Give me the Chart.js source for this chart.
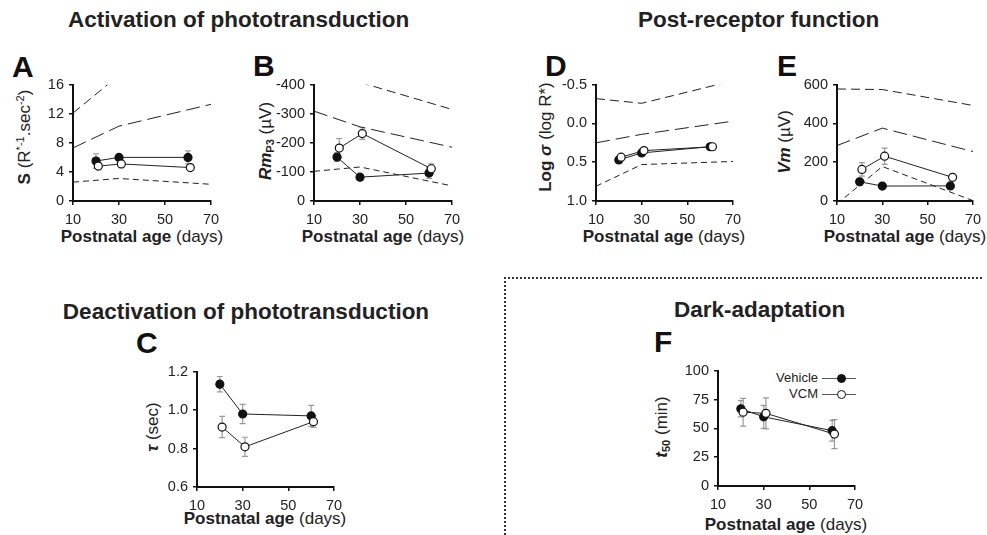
<!DOCTYPE html>
<html><head><meta charset="utf-8">
<script src="https://cdn.jsdelivr.net/npm/chart.js@4"></script>
<style>
body{margin:0;background:#fff;width:987px;height:535px;overflow:hidden;position:relative;font-family:'Liberation Sans',Arial,sans-serif;color:#222}
canvas{position:absolute}
.t{position:absolute;white-space:nowrap}
.title{font-weight:bold;font-size:22.5px;line-height:26px}
.letter{font-weight:bold;font-size:30px;line-height:34px;color:#111}
.xt{font-size:17px;line-height:20px;transform:translateX(-50%)}
.yt{font-size:17px;line-height:20px;transform:translate(-50%,-50%) rotate(-90deg)}
sup{font-size:0.65em;vertical-align:0.55em;line-height:0}
sub{font-size:0.65em;vertical-align:-0.3em;line-height:0}
.lgt{font-size:13px;line-height:16px;text-align:right}
.lgl{position:absolute;width:34px;height:0;border-top:1.3px solid #555}
.lgd{position:absolute;width:9px;height:9px;box-sizing:border-box;border:1.3px solid #111;border-radius:50%}
</style></head><body>

<div class="t title" style="left:68px;top:7px">Activation of phototransduction</div>
<div class="t title" style="left:638px;top:7px">Post-receptor function</div>
<div class="t title" style="left:246px;top:299px;transform:translateX(-50%)">Deactivation of phototransduction</div>
<div class="t title" style="left:674px;top:297px">Dark-adaptation</div>

<div class="t letter" style="left:12px;top:50px">A</div>
<div class="t letter" style="left:253px;top:49px">B</div>
<div class="t letter" style="left:545px;top:49px">D</div>
<div class="t letter" style="left:777px;top:49px">E</div>
<div class="t letter" style="left:136px;top:326px">C</div>
<div class="t letter" style="left:654px;top:325px">F</div>

<div class="t yt" style="left:25px;top:137px"><b>S</b> (R<sup>*-1</sup>.sec<sup>-2</sup>)</div>
<div class="t yt" style="left:266px;top:141px"><b><i>Rm</i><sub>P3</sub></b> (µV)</div>
<div class="t yt" style="left:546px;top:137px"><b>Log <i>σ</i></b> (log R*)</div>
<div class="t yt" style="left:785px;top:142px"><b><i>Vm</i></b> (µV)</div>
<div class="t yt" style="left:153px;top:427px"><b><i>τ</i></b> (sec)</div>
<div class="t yt" style="left:662px;top:427px"><b><i>t</i><sub>50</sub></b> (min)</div>

<div class="t xt" style="left:142px;top:227px"><b>Postnatal age</b> (days)</div>
<div class="t xt" style="left:383px;top:227px"><b>Postnatal age</b> (days)</div>
<div class="t xt" style="left:664px;top:227px"><b>Postnatal age</b> (days)</div>
<div class="t xt" style="left:905px;top:227px"><b>Postnatal age</b> (days)</div>
<div class="t xt" style="left:265px;top:509px"><b>Postnatal age</b> (days)</div>
<div class="t xt" style="left:786px;top:515px"><b>Postnatal age</b> (days)</div>

<div style="position:absolute;left:504px;top:277px;height:258px;border-left:2px dotted #333"></div>
<div style="position:absolute;left:504px;top:277px;width:478px;border-top:2px dotted #333"></div>

<div class="t lgt" style="right:169px;top:370px">Vehicle</div>
<div class="lgl" style="left:822px;top:378px"></div>
<div class="lgd" style="left:837px;top:373.5px;background:#111"></div>
<div class="t lgt" style="right:169px;top:386px">VCM</div>
<div class="lgl" style="left:822px;top:394px"></div>
<div class="lgd" style="left:837px;top:389.5px;background:#fff"></div>

<script>
// ---------- data ----------
const xTicks = [10, 30, 50, 70];
const refX = [10, 30, 70];
const vehAge = [20, 30, 60];
const vcmAge = [21, 31, 61];

// A: sensitivity S
const aTicks = [0, 4, 8, 12, 16];
const aUpperX = [10, 30];
const aUpper = [12.1, 17.3];
const aMid = [7.3, 10.3, 13.3];
const aLow = [2.6, 3.1, 2.3];
const aVeh = [5.5, 6.0, 6.0];
const aVehErr = [1.0, 0.4, 0.9];
const aVcm = [4.8, 5.1, 4.6];
const aVcmErr = [0.5, 0.5, 0.4];

// B: RmP3
const bTicks = [-400, -300, -200, -100, 0];
const bUpperX = [30, 70];
const bUpper = [-408, -315];
const bMid = [-309, -255, -185];
const bLow = [-102, -117, -52];
const bVeh = [-151, -82, -96];
const bVehErr = [15, 8, 18];
const bVcm = [-182, -232, -111];
const bVcmErr = [33, 20, 17];

// D: log sigma
const dTicks = [-0.5, 0.0, 0.5, 1.0];
const dUpper = [-0.32, -0.26, -0.55];
const dMid = [0.25, 0.14, -0.03];
const dLow = [0.81, 0.53, 0.49];
const dVeh = [0.47, 0.38, 0.30];
const dVehErr = [0.03, 0.03, 0.03];
const dVcm = [0.435, 0.35, 0.30];
const dVcmErr = [0.03, 0.03, 0.03];

// E: Vm
const eTicks = [0, 200, 400, 600];
const eUpper = [578, 575, 493];
const eMid = [286, 376, 255];
const eLow = [-15, 178, 2];
const eVeh = [99, 77, 78];
const eVehErr = [18, 8, 10];
const eVcm = [163, 231, 122];
const eVcmErr = [35, 42, 10];

// C: tau
const cTicks = [0.6, 0.8, 1.0, 1.2];
const cVeh = [1.135, 0.98, 0.97];
const cVehErr = [0.04, 0.05, 0.055];
const cVcm = [0.912, 0.809, 0.94];
const cVcmErr = [0.055, 0.05, 0.03];

// F: t50
const fTicks = [0, 25, 50, 75, 100];
const fVeh = [67, 60, 48];
const fVehErr = [7, 10, 9];
const fVcm = [64, 63, 45];
const fVcmErr = [12, 13.5, 12.5];

// ---------- drawing ----------
const FONT = "'Liberation Sans', Arial, sans-serif";
const INK = '#111';
const YW = 60, PT = 12, PR = 16, XH = 30;

function pts(xs, ys) { return xs.map((x, i) => ({ x: x, y: ys[i] })); }
function dashed(xs, ys, dash) {
  return { data: pts(xs, ys), showLine: true, borderColor: '#222', borderWidth: 1, borderDash: dash, pointRadius: 0, fill: false };
}
function series(xs, ys, filled) {
  return { data: pts(xs, ys), showLine: true, borderColor: '#222', borderWidth: 1, pointRadius: 4,
    pointBackgroundColor: filled ? INK : '#fff', pointBorderColor: INK, pointBorderWidth: 1.2, fill: false };
}

const errPlugin = {
  id: 'errbars',
  beforeDatasetsDraw(chart, args, opts) {
    const ctx = chart.ctx, ys = chart.scales.y;
    ctx.save();
    ctx.strokeStyle = '#9a9a9a';
    ctx.lineWidth = 1.2;
    (opts.sets || []).forEach(s => {
      const meta = chart.getDatasetMeta(s.ds);
      const ds = chart.data.datasets[s.ds];
      meta.data.forEach((el, i) => {
        const v = ds.data[i].y, e = s.err[i];
        const y1 = ys.getPixelForValue(v + e), y2 = ys.getPixelForValue(v - e), x = el.x;
        ctx.beginPath();
        ctx.moveTo(x, y1); ctx.lineTo(x, y2);
        ctx.moveTo(x - 3, y1); ctx.lineTo(x + 3, y1);
        ctx.moveTo(x - 3, y2); ctx.lineTo(x + 3, y2);
        ctx.stroke();
      });
    });
    ctx.restore();
  }
};

function makePanel(area, yCfg, datasets, errSets) {
  const c = document.createElement('canvas');
  const w = (area.r - area.l) + YW + PR, h = (area.b - area.t) + PT + XH;
  c.width = w; c.height = h;
  c.style.left = (area.l - YW) + 'px';
  c.style.top = (area.t - PT) + 'px';
  document.body.appendChild(c);
  const gridCfg = { drawOnChartArea: false, tickLength: 4, color: INK, lineWidth: 1.5 };
  const borderCfg = { color: INK, width: 2 };
  new Chart(c, {
    type: 'scatter',
    data: { datasets: datasets },
    plugins: [errPlugin],
    options: {
      responsive: false, animation: false, events: [],
      layout: { padding: { left: 0, top: PT, right: PR, bottom: 0 } },
      plugins: { legend: { display: false }, tooltip: { enabled: false }, errbars: { sets: errSets } },
      scales: {
        x: {
          type: 'linear', min: 10, max: 70,
          afterBuildTicks: s => { s.ticks = xTicks.map(v => ({ value: v })); },
          afterFit: s => { s.height = XH; },
          grid: gridCfg, border: borderCfg,
          ticks: { color: '#222', font: { family: FONT, size: 14.5 }, padding: 6, maxRotation: 0 }
        },
        y: {
          type: 'linear', min: yCfg.min, max: yCfg.max, reverse: !!yCfg.reverse,
          afterBuildTicks: s => { s.ticks = yCfg.ticks.map(v => ({ value: v })); },
          afterFit: s => { s.width = YW; },
          grid: gridCfg, border: borderCfg,
          ticks: { color: '#222', font: { family: FONT, size: 14.5 }, padding: 5,
            callback: yCfg.fmt || (v => String(v)) }
        }
      }
    }
  });
}

const DU = [9, 5], DM = [14, 6], DL = [6, 4];

makePanel({ l: 73, r: 211, t: 83, b: 201 }, { min: 0, max: 16, ticks: aTicks }, [
  series(vcmAge, aVcm, false), series(vehAge, aVeh, true),
  dashed(aUpperX, aUpper, DU), dashed(refX, aMid, DM), dashed(refX, aLow, DL)
], [{ ds: 0, err: aVcmErr }, { ds: 1, err: aVehErr }]);

makePanel({ l: 314, r: 452, t: 83, b: 201 }, { min: -400, max: 0, reverse: true, ticks: bTicks }, [
  series(vcmAge, bVcm, false), series(vehAge, bVeh, true),
  dashed(bUpperX, bUpper, DU), dashed(refX, bMid, DM), dashed(refX, bLow, DL)
], [{ ds: 0, err: bVcmErr }, { ds: 1, err: bVehErr }]);

makePanel({ l: 596, r: 733, t: 83, b: 201 }, { min: -0.5, max: 1.0, reverse: true, ticks: dTicks, fmt: v => v.toFixed(1) }, [
  series(vcmAge, dVcm, false), series(vehAge, dVeh, true),
  dashed(refX, dUpper, DU), dashed(refX, dMid, DM), dashed(refX, dLow, DL)
], [{ ds: 0, err: dVcmErr }, { ds: 1, err: dVehErr }]);

makePanel({ l: 837, r: 973, t: 83, b: 201 }, { min: 0, max: 600, ticks: eTicks }, [
  series(vcmAge, eVcm, false), series(vehAge, eVeh, true),
  dashed(refX, eUpper, DU), dashed(refX, eMid, DM), dashed(refX, eLow, DL)
], [{ ds: 0, err: eVcmErr }, { ds: 1, err: eVehErr }]);

makePanel({ l: 197, r: 334, t: 370, b: 487 }, { min: 0.6, max: 1.2, ticks: cTicks, fmt: v => v.toFixed(1) }, [
  series(vcmAge, cVcm, false), series(vehAge, cVeh, true)
], [{ ds: 0, err: cVcmErr }, { ds: 1, err: cVehErr }]);

makePanel({ l: 718, r: 855, t: 369, b: 486 }, { min: 0, max: 100, ticks: fTicks }, [
  series(vcmAge, fVcm, false), series(vehAge, fVeh, true)
], [{ ds: 0, err: fVcmErr }, { ds: 1, err: fVehErr }]);
</script>
</body></html>
